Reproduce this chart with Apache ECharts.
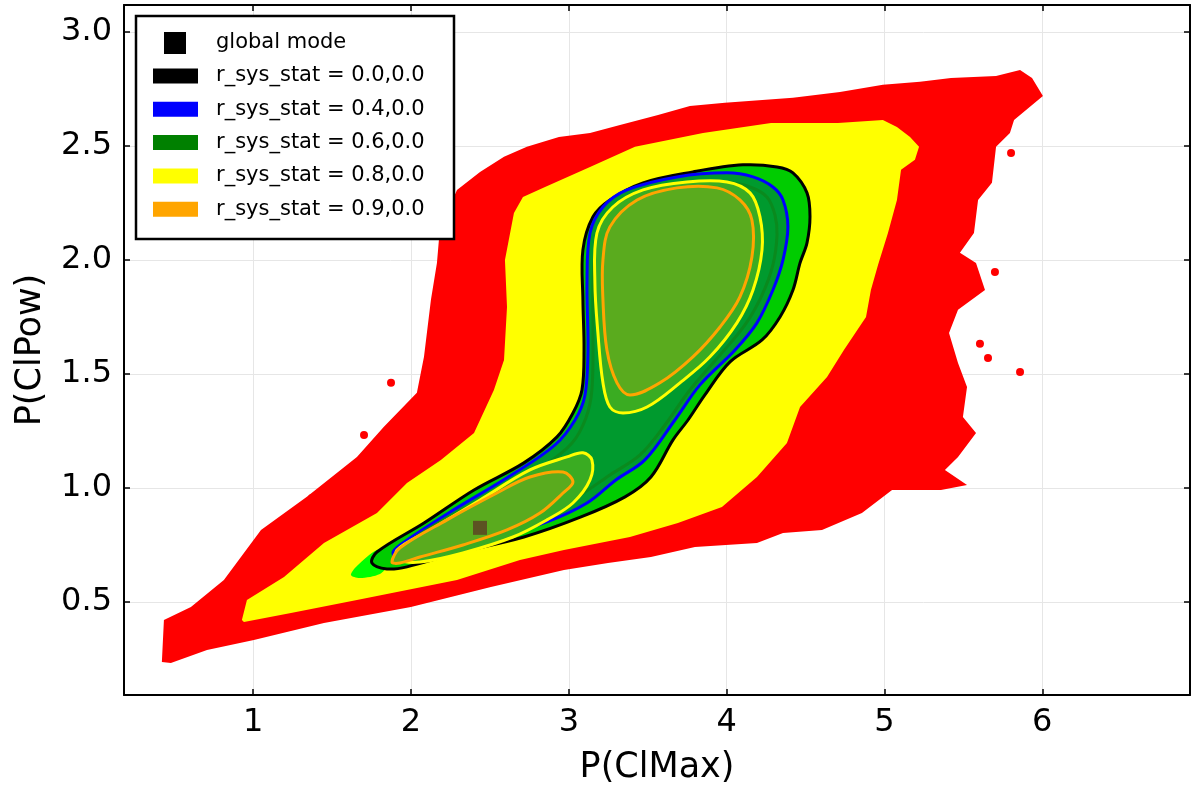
<!DOCTYPE html>
<html><head><meta charset="utf-8">
<script src="https://cdn.jsdelivr.net/npm/echarts@6/dist/echarts.min.js"></script>
<style>html,body{margin:0;padding:0;background:#fff}#c{width:1200px;height:789px}</style>
</head><body><div id="c"></div>
<script>
// ---- data (in axis units) ----
const xName = 'P(ClMax)';
const yName = 'P(ClPow)';
const legendNames = ['r_sys_stat = 0.0,0.0','r_sys_stat = 0.4,0.0','r_sys_stat = 0.6,0.0','r_sys_stat = 0.8,0.0','r_sys_stat = 0.9,0.0'];
const legendColors = ['#000000','#0000ff','#008000','#ffff00','#ffa500'];

const redRegion = [[0.421,0.237],[0.434,0.421],[0.605,0.478],[0.814,0.596],[1.049,0.816],[1.340,0.961],[1.657,1.136],[1.828,1.268],[2.037,1.417],[2.082,1.575],[2.126,1.825],[2.164,1.987],[2.183,2.140],[2.291,2.307],[2.437,2.386],[2.589,2.452],[2.734,2.496],[2.937,2.539],[3.134,2.557],[3.324,2.592],[3.565,2.636],[3.767,2.675],[3.989,2.689],[4.420,2.711],[4.718,2.737],[4.990,2.768],[5.225,2.781],[5.421,2.798],[5.707,2.807],[5.859,2.833],[5.935,2.798],[6.004,2.719],[5.821,2.614],[5.795,2.557],[5.707,2.496],[5.681,2.338],[5.593,2.263],[5.567,2.118],[5.478,2.031],[5.580,1.987],[5.637,1.868],[5.466,1.781],[5.409,1.680],[5.466,1.548],[5.523,1.443],[5.497,1.311],[5.580,1.241],[5.466,1.136],[5.383,1.079],[5.523,1.013],[5.358,0.991],[5.048,0.991],[4.857,0.890],[4.604,0.816],[4.357,0.803],[4.192,0.759],[3.799,0.741],[3.520,0.697],[3.248,0.671],[2.969,0.640],[2.506,0.566],[1.999,0.478],[1.448,0.408],[1.004,0.333],[0.707,0.289],[0.478,0.232]];
const redSpecks = [[5.700,1.947],[5.605,1.632],[5.656,1.570],[5.859,1.509],[5.802,2.469],[1.873,1.461],[1.702,1.232],[1.372,0.956]];
const yellowRegion = [[0.928,0.421],[0.960,0.509],[1.195,0.610],[1.448,0.759],[1.784,0.890],[1.974,1.022],[2.189,1.123],[2.399,1.241],[2.525,1.430],[2.589,1.561],[2.608,1.794],[2.595,2.000],[2.652,2.206],[2.709,2.276],[2.849,2.320],[3.134,2.408],[3.419,2.496],[3.850,2.557],[4.281,2.601],[4.705,2.601],[4.990,2.614],[5.079,2.583],[5.162,2.539],[5.219,2.496],[5.193,2.439],[5.105,2.395],[5.079,2.263],[5.022,2.118],[4.959,1.978],[4.914,1.868],[4.883,1.750],[4.743,1.605],[4.636,1.487],[4.465,1.355],[4.382,1.197],[4.192,1.048],[3.970,0.917],[3.691,0.846],[3.387,0.785],[2.969,0.728],[2.690,0.684],[2.291,0.596],[1.657,0.509],[1.239,0.452],[0.941,0.412]];
const limePatch = [[1.619,0.618],[1.657,0.658],[1.784,0.728],[1.879,0.728],[1.854,0.662],[1.803,0.623],[1.676,0.605]];
const contour00 = [[1.752,0.671],[1.784,0.719],[2.082,0.846],[2.399,0.991],[2.715,1.110],[2.925,1.224],[3.026,1.329],[3.083,1.430],[3.096,1.605],[3.089,1.825],[3.089,2.044],[3.153,2.189],[3.260,2.263],[3.470,2.338],[3.786,2.386],[4.103,2.417],[4.319,2.408],[4.420,2.382],[4.509,2.294],[4.528,2.189],[4.509,2.075],[4.465,1.987],[4.420,1.868],[4.338,1.750],[4.224,1.649],[4.021,1.553],[3.862,1.408],[3.755,1.298],[3.660,1.211],[3.520,1.048],[3.356,0.961],[3.077,0.873],[2.715,0.785],[2.291,0.715],[1.974,0.654],[1.847,0.645]];
const contour04 = [[1.885,0.715],[1.930,0.750],[2.228,0.886],[2.646,1.061],[2.912,1.189],[3.039,1.298],[3.102,1.408],[3.121,1.605],[3.115,1.899],[3.134,2.118],[3.216,2.232],[3.368,2.307],[3.685,2.364],[4.002,2.382],[4.167,2.364],[4.293,2.320],[4.357,2.263],[4.388,2.145],[4.357,2.000],[4.293,1.868],[4.192,1.724],[4.053,1.605],[3.831,1.452],[3.672,1.298],[3.482,1.123],[3.298,1.035],[3.115,0.934],[2.861,0.851],[2.437,0.759],[2.056,0.706],[1.930,0.684]];
const contour06 = [[3.178,2.088],[3.248,2.197],[3.387,2.272],[3.685,2.320],[4.002,2.338],[4.148,2.320],[4.255,2.276],[4.306,2.197],[4.319,2.110],[4.293,1.978],[4.224,1.846],[4.116,1.715],[3.958,1.583],[3.767,1.430],[3.609,1.276],[3.451,1.145],[3.260,1.057],[3.070,0.969],[2.849,0.895],[2.437,0.794],[2.056,0.728],[1.949,0.719],[1.961,0.750],[2.183,0.851],[2.563,0.991],[2.849,1.101],[3.020,1.197],[3.108,1.307],[3.146,1.430],[3.153,1.693],[3.153,1.912]];
const contour08Upper = [[3.178,2.118],[3.279,2.232],[3.470,2.307],[3.748,2.342],[4.002,2.342],[4.148,2.294],[4.211,2.189],[4.224,2.044],[4.167,1.868],[4.065,1.724],[3.894,1.575],[3.704,1.461],[3.495,1.355],[3.343,1.329],[3.260,1.355],[3.216,1.461],[3.184,1.680],[3.165,1.899]];
const contour08Lower = [[1.930,0.684],[1.911,0.728],[2.120,0.816],[2.437,0.947],[2.753,1.079],[2.988,1.136],[3.089,1.154],[3.146,1.123],[3.134,1.035],[3.026,0.934],[2.861,0.860],[2.646,0.785],[2.329,0.715],[2.056,0.675]];
const contour09Upper = [[3.216,2.000],[3.260,2.145],[3.432,2.263],[3.685,2.316],[3.939,2.316],[4.084,2.263],[4.160,2.175],[4.160,2.013],[4.084,1.838],[3.958,1.706],[3.786,1.575],[3.577,1.461],[3.387,1.408],[3.305,1.461],[3.241,1.605],[3.216,1.825]];
const contour09Lower = [[1.879,0.675],[1.930,0.737],[2.228,0.860],[2.544,0.978],[2.753,1.048],[2.963,1.070],[3.026,1.026],[2.963,0.978],[2.817,0.890],[2.608,0.816],[2.329,0.750],[2.056,0.697],[1.930,0.671]];
const globalMode = [[2.437, 0.825]];

// ---- chart ----
const FONT = 'DejaVu Sans';
function polySeries(name, polys, fill, stroke, lw, smooth, legendColor) {
  return {
    type: 'custom', name: name, coordinateSystem: 'cartesian2d', silent: true, z: 2,
    itemStyle: { color: legendColor || fill || stroke },
    data: polys.map((p, i) => [i, 0]),
    renderItem: function (params, api) {
      const pts = polys[params.dataIndex].map(p => api.coord(p));
      return { type: 'polygon', shape: { points: pts, smooth: smooth },
        style: { fill: fill || 'none', stroke: stroke || 'none', lineWidth: lw, lineJoin: 'round' } };
    }
  };
}

const X_MIN = 0.181, X_MAX = 6.936, Y_MIN = 0.092, Y_MAX = 3.118;
const chart = echarts.init(document.getElementById('c'), null, { renderer: 'canvas' });
const axisLineStyle = { show: true, lineStyle: { color: '#000', width: 2 } };
const tickIn = { show: true, inside: true, length: 6, lineStyle: { color: '#000', width: 1.5 } };
chart.setOption({
  animation: false,
  backgroundColor: '#fff',
  grid: { left: 124, right: 10, top: 5, bottom: 94, containLabel: false, outerBoundsMode: 'none' },
  xAxis: [
    { type: 'value', min: X_MIN, max: X_MAX, position: 'bottom',
      name: xName, nameLocation: 'middle', nameGap: 55,
      nameTextStyle: { fontFamily: FONT, fontSize: 35, color: '#000' },
      axisLine: axisLineStyle, axisTick: tickIn,
      axisLabel: { fontFamily: FONT, fontSize: 32, color: '#000', margin: 12, showMinLabel: false, showMaxLabel: false },
      splitLine: { show: true, lineStyle: { color: '#e6e6e6', width: 1 } } },
    { type: 'value', min: X_MIN, max: X_MAX, position: 'top',
      axisLine: axisLineStyle, axisTick: tickIn, axisLabel: { show: false }, splitLine: { show: false } }
  ],
  yAxis: [
    { type: 'value', min: Y_MIN, max: Y_MAX, position: 'left',
      name: yName, nameLocation: 'middle', nameGap: 76,
      nameTextStyle: { fontFamily: FONT, fontSize: 35, color: '#000' },
      axisLine: axisLineStyle, axisTick: tickIn,
      axisLabel: { fontFamily: FONT, fontSize: 32, color: '#000', margin: 12, showMinLabel: false, showMaxLabel: false,
        formatter: v => v.toFixed(1) },
      splitLine: { show: true, lineStyle: { color: '#e6e6e6', width: 1 } } },
    { type: 'value', min: Y_MIN, max: Y_MAX, position: 'right',
      axisLine: axisLineStyle, axisTick: tickIn, axisLabel: { show: false }, splitLine: { show: false } }
  ],
  graphic: [{ type: 'rect', z: 3, shape: { x: 136, y: 16, width: 318, height: 223 },
    style: { fill: '#fff', stroke: '#000', lineWidth: 2.5 } }],
  legend: [
    { data: [{ name: 'global mode', icon: 'rect', itemStyle: { color: '#000', opacity: 1 } }],
      orient: 'vertical', left: 164, top: 32, padding: 0, itemWidth: 22, itemHeight: 22,
      textStyle: { fontFamily: FONT, fontSize: 21, color: '#000', padding: [0, 0, 0, 25] }, z: 5, selectedMode: false },
    { data: legendNames.map((n, i) => ({ name: n, icon: 'rect', itemStyle: { color: legendColors[i], borderWidth: 0 } })),
      orient: 'vertical', left: 153, top: 65.5, padding: 0, itemWidth: 45, itemHeight: 15, itemGap: 12.3,
      textStyle: { fontFamily: FONT, fontSize: 21, lineHeight: 21, color: '#000', padding: [0, 0, 0, 13] }, z: 5, selectedMode: false }
  ],
  series: [
    polySeries('red region', [redRegion], '#ff0000', null, 0, 0),
    { type: 'scatter', name: 'red specks', data: redSpecks, symbol: 'circle', symbolSize: 8, silent: true, z: 2,
      itemStyle: { color: '#ff0000', opacity: 1 } },
    polySeries('yellow region', [yellowRegion], '#ffff00', null, 0, 0),
    polySeries('lime patch', [limePatch], '#00ff00', null, 0, 0.3),
    polySeries(legendNames[0], [contour00], '#00cc00', '#000000', 3, 0.35, legendColors[0]),
    polySeries(legendNames[1], [contour04], '#009a2e', '#0000ff', 3, 0.35, legendColors[1]),
    polySeries(legendNames[2], [contour06], null, '#0a8a1e', 3, 0.35, legendColors[2]),
    polySeries(legendNames[3], [contour08Upper, contour08Lower], '#3aac22', '#ffff00', 3, 0.35, legendColors[3]),
    polySeries(legendNames[4], [contour09Upper, contour09Lower], '#5aab1e', '#ffa500', 3, 0.35, legendColors[4]),
    { type: 'scatter', name: 'global mode', data: globalMode, symbol: 'rect', symbolSize: 14, silent: true, z: 3,
      itemStyle: { color: '#5c5322', opacity: 1 } }
  ]
});
</script></body></html>
